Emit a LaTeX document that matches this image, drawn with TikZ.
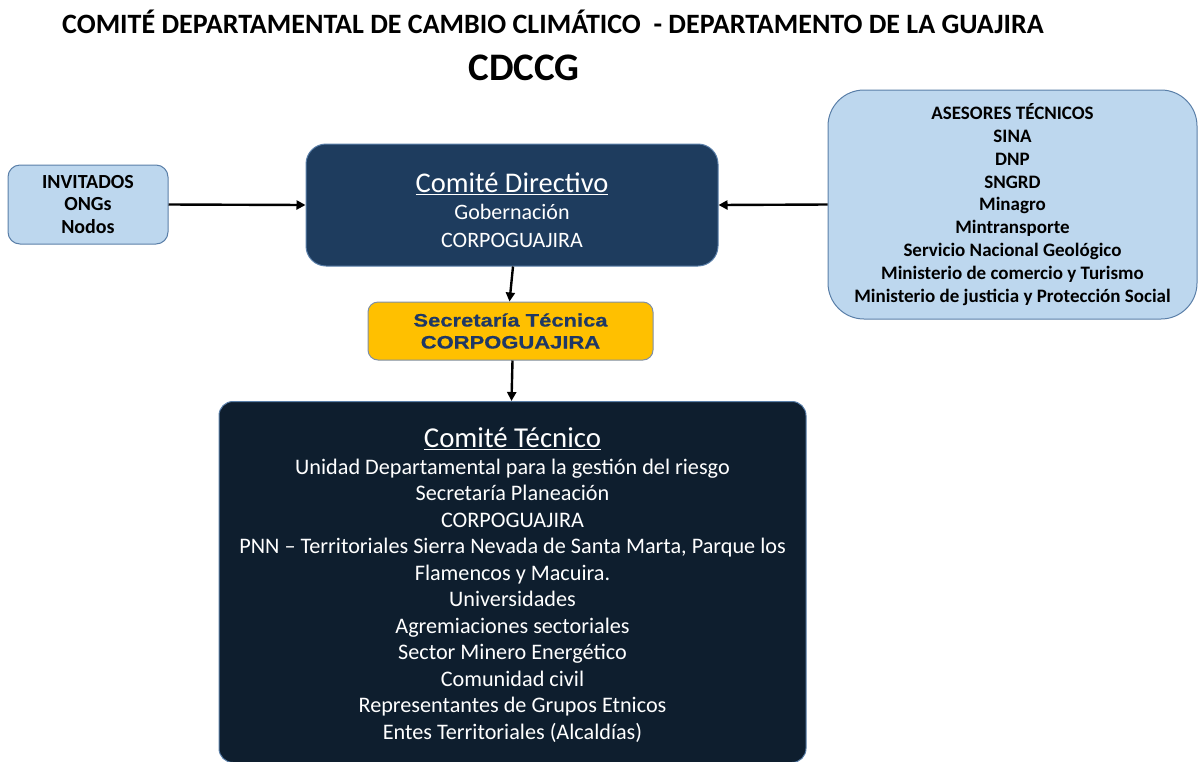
\documentclass[tikz,border=0pt]{standalone}
\usepackage{fontspec}
\setmainfont{Carlito}
\newfontfamily\arialf[FakeStretch=1.22,FakeBold=0.6]{Liberation Sans Bold}
\usetikzlibrary{arrows.meta}
\definecolor{lightbl}{HTML}{BDD7EE}
\definecolor{lbborder}{HTML}{5A7FA8}
\definecolor{dirfill}{HTML}{1E3C5E}
\definecolor{tecfill}{HTML}{0E1E2E}
\definecolor{secfill}{HTML}{FFC000}
\definecolor{sectext}{HTML}{1F3864}
\definecolor{secborder}{HTML}{7F8FA6}
\tikzset{
  lbox/.style={draw=lbborder, line width=1pt, fill=lightbl, align=center, inner sep=0pt, font=\bfseries},
  dbox/.style={draw=lbborder, line width=1pt, inner sep=0pt},
  wtext/.style={align=center, inner sep=0pt, text=white},
  conn/.style={line width=2.4pt, -{Triangle[length=9pt,width=9pt]}}
}
\begin{document}
\begin{tikzpicture}[x=1pt,y=-1pt]
\useasboundingbox (0,0) rectangle (1198,761);
\node[font=\bfseries\fontsize{28}{30}\selectfont, inner sep=0pt] (title) at (553,22) {COMITÉ DEPARTAMENTAL DE CAMBIO CLIMÁTICO \ - DEPARTAMENTO DE LA GUAJIRA};
\node[font=\bfseries\fontsize{39}{40}\selectfont, inner sep=0pt] (sub) at (524,68) {CDCCG};

\node[lbox, minimum width=160pt, minimum height=79pt, rounded corners=12pt,
  font=\bfseries\fontsize{20}{22.5}\selectfont] (inv) at (88,204.5)
  {INVITADOS\\ONGs\\Nodos};

\node[dbox, fill=dirfill, minimum width=412pt, minimum height=122pt, rounded corners=20pt] (dir) at (512,205) {};
\node[wtext, font=\fontsize{22}{27.5}\selectfont] (dirt) at (512,210)
  {{\fontsize{28.5}{30}\selectfont\underline{Comité Directivo}}\\Gobernación\\CORPOGUAJIRA};

\node[lbox, minimum width=369pt, minimum height=229pt, rounded corners=36pt,
  font=\bfseries\fontsize{19}{22.8}\selectfont] (ase) at (1012.5,204.5)
  {ASESORES TÉCNICOS\\SINA\\DNP\\SNGRD\\Minagro\\Mintransporte\\Servicio Nacional Geológico\\Ministerio de comercio y Turismo\\Ministerio de justicia y Protección Social};

\node[draw=secborder, line width=1pt, fill=secfill, text=sectext, align=center, inner sep=0pt,
  minimum width=285pt, minimum height=58pt, rounded corners=10pt,
  font=\arialf\fontsize{18}{22}\selectfont] (sec) at (510.5,331)
  {Secretaría Técnica\\CORPOGUAJIRA};

\node[dbox, fill=tecfill, minimum width=587pt, minimum height=361pt, rounded corners=14pt] (tec) at (512.5,582) {};
\node[wtext, font=\fontsize{22.2}{26.5}\selectfont] (tect) at (512.5,585)
  {{\fontsize{28.8}{31}\selectfont\underline{Comité Técnico}}\\Unidad Departamental para la gestión del riesgo\\Secretaría Planeación\\CORPOGUAJIRA\\PNN – Territoriales Sierra Nevada de Santa Marta, Parque los\\Flamencos y Macuira.\\Universidades\\Agremiaciones sectoriales\\Sector Minero Energético\\Comunidad civil\\Representantes de Grupos Etnicos\\Entes Territoriales (Alcaldías)};

\draw[conn] (inv.east) -- (dir.west);
\draw[conn] (ase.west) -- (dir.east);
\draw[conn] ([xshift=1pt]dir.south) -- ([xshift=-1pt]sec.north);
\draw[conn] ([xshift=2pt]sec.south) -- ([xshift=-1pt]tec.north);
\end{tikzpicture}
\end{document}
